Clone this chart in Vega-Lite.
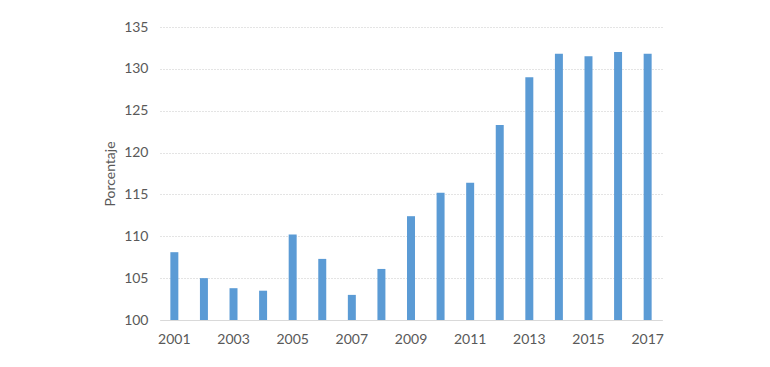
{
  "$schema": "https://vega.github.io/schema/vega-lite/v6.json",
  "autosize": {"type": "none"},
  "width": 502,
  "height": 293,
  "padding": {"left": 160, "top": 27, "right": 108, "bottom": 47},
  "background": "white",
  "data": {"values": [
    {"year": "2001", "value": 108.1},
    {"year": "2002", "value": 105.0},
    {"year": "2003", "value": 103.8},
    {"year": "2004", "value": 103.5},
    {"year": "2005", "value": 110.2},
    {"year": "2006", "value": 107.3},
    {"year": "2007", "value": 103.0},
    {"year": "2008", "value": 106.1},
    {"year": "2009", "value": 112.4},
    {"year": "2010", "value": 115.2},
    {"year": "2011", "value": 116.4},
    {"year": "2012", "value": 123.3},
    {"year": "2013", "value": 129.0},
    {"year": "2014", "value": 131.8},
    {"year": "2015", "value": 131.5},
    {"year": "2016", "value": 132.0},
    {"year": "2017", "value": 131.8}
  ]},
  "mark": {"type": "bar", "color": "#5B9BD5"},
  "encoding": {
    "x": {
      "field": "year", "type": "ordinal",
      "scale": {"paddingInner": 0.73, "paddingOuter": 0.35},
      "axis": {
        "title": null, "labelAngle": 0,
        "values": ["2001","2003","2005","2007","2009","2011","2013","2015","2017"],
        "ticks": false, "domainColor": "#d9d9d9", "domainWidth": 1,
        "labelFont": "Lato", "labelFontSize": 14, "labelColor": "#595959", "labelPadding": 12
      }
    },
    "y": {
      "field": "value", "type": "quantitative",
      "scale": {"domain": [100, 135], "nice": false, "zero": false},
      "axis": {
        "title": "Porcentaje", "values": [100,105,110,115,120,125,130,135],
        "ticks": false, "domain": false, "grid": true,
        "gridColor": "#c8c8c8", "gridDash": [1, 2], "gridWidth": 1,
        "labelFont": "Lato", "labelFontSize": 14, "labelColor": "#595959", "labelPadding": 12,
        "titleFont": "Lato", "titleFontSize": 14, "titleFontWeight": "normal", "titleColor": "#595959", "titlePadding": 6
      }
    },
    "y2": {"datum": 100}
  },
  "config": {"view": {"stroke": null}}
}
